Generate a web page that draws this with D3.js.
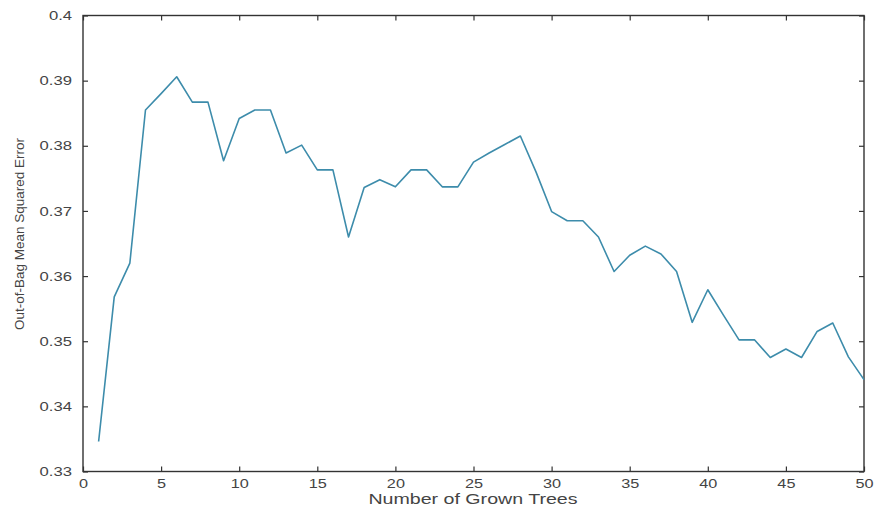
<!DOCTYPE html>
<html>
<head>
<meta charset="utf-8">
<script src="https://cdn.jsdelivr.net/npm/d3@7"></script>
<style>
  body { margin: 0; background: #fff; }
  svg { display: block; }
  text { font-family: "Liberation Sans", Arial, Helvetica, sans-serif; fill: #444; }
</style>
</head>
<body>
<svg id="chart" width="875" height="510"></svg>
<script>
const trees = d3.range(1, 51);
const oobError = [
  0.3346, 0.3568, 0.3620, 0.3855, 0.3880, 0.3906, 0.3867, 0.3867, 0.3777, 0.3842,
  0.3855, 0.3855, 0.3789, 0.3801, 0.3763, 0.3763, 0.3660, 0.3736, 0.3748, 0.3737,
  0.3763, 0.3763, 0.3737, 0.3737, 0.3775, 0.3789, 0.3802, 0.3815, 0.3760, 0.3699,
  0.3685, 0.3685, 0.3660, 0.3607, 0.3632, 0.3646, 0.3634, 0.3607, 0.3529, 0.3579,
  0.3540, 0.3502, 0.3502, 0.3475, 0.3488, 0.3475, 0.3515, 0.3528, 0.3476, 0.3441
];
const xTicks = [0, 5, 10, 15, 20, 25, 30, 35, 40, 45, 50];
const yTicks = [0.33, 0.34, 0.35, 0.36, 0.37, 0.38, 0.39, 0.4];
const xDomain = [0, 50];
const yDomain = [0.33, 0.4];
const xTitle = "Number of Grown Trees";
const yTitle = "Out-of-Bag Mean Squared Error";

const mLeft = 83, mRight = 864, mTop = 15.5, mBottom = 471.5;
const svg = d3.select("#chart");
const x = d3.scaleLinear().domain(xDomain).range([mLeft, mRight]);
const y = d3.scaleLinear().domain(yDomain).range([mBottom, mTop]);

const stretch = (sel, k) => sel.each(function() {
  const len = this.getComputedTextLength();
  d3.select(this).attr("textLength", len * k).attr("lengthAdjust", "spacingAndGlyphs");
});

const gx = svg.append("g").attr("transform", `translate(0,${mBottom})`)
  .call(d3.axisBottom(x).tickValues(xTicks).tickFormat(d3.format("d")).tickSize(-5).tickPadding(8));
const gy = svg.append("g").attr("transform", `translate(${mLeft},0)`)
  .call(d3.axisLeft(y).tickValues(yTicks).tickFormat(d => d === 0.4 ? "0.4" : d3.format(".2f")(d)).tickSize(-5).tickPadding(11));
const gt = svg.append("g").attr("transform", `translate(0,${mTop})`)
  .call(d3.axisTop(x).tickValues(xTicks).tickFormat("").tickSize(-5));
const gr = svg.append("g").attr("transform", `translate(${mRight},0)`)
  .call(d3.axisRight(y).tickValues(yTicks).tickFormat("").tickSize(-5));

[gx, gy, gt, gr].forEach(g => {
  g.select(".domain").remove();
  g.selectAll(".tick line").attr("stroke", "#333").attr("stroke-width", 1.2);
});
gx.selectAll("text").style("font-size", "12.5px").attr("fill", "#444").call(stretch, 1.3);
gy.selectAll("text").style("font-size", "13px").attr("fill", "#444").call(stretch, 1.28);

svg.append("rect")
  .attr("x", mLeft).attr("y", mTop)
  .attr("width", mRight - mLeft).attr("height", mBottom - mTop)
  .attr("fill", "none").attr("stroke", "#333").attr("stroke-width", 1.4);

const line = d3.line().x((d, i) => x(trees[i])).y(d => y(d));
svg.append("path")
  .datum(oobError)
  .attr("d", line)
  .attr("fill", "none")
  .attr("stroke", "#3d8cab")
  .attr("stroke-width", 1.6)
  .attr("stroke-linejoin", "round");

svg.append("text")
  .attr("x", 473).attr("y", 504)
  .attr("text-anchor", "middle")
  .style("font-size", "14px").attr("fill", "#444")
  .text(xTitle).call(stretch, 1.4);

svg.append("text")
  .attr("transform", "translate(24,234) rotate(-90)")
  .attr("text-anchor", "middle")
  .style("font-size", "13.5px").attr("fill", "#444")
  .text(yTitle);
</script>
</body>
</html>
